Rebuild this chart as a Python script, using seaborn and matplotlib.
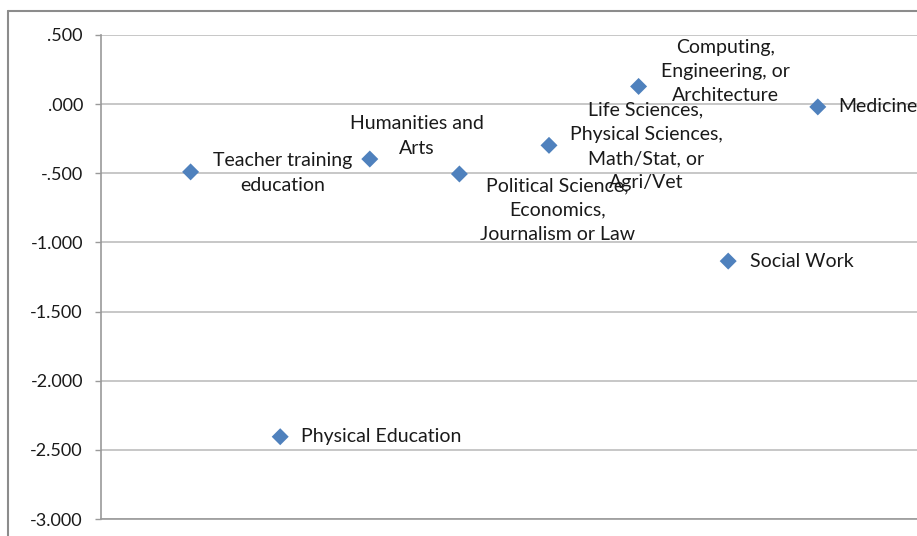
import pandas as pd
import seaborn as sns
import matplotlib.pyplot as plt
from matplotlib.lines import Line2D
from matplotlib.ticker import FuncFormatter

# values, one point per field of study
fields = [
    "Teacher training\neducation",
    "Physical Education",
    "Humanities and\nArts",
    "Political Science,\nEconomics,\nJournalism or Law",
    "Life Sciences,\nPhysical Sciences,\nMath/Stat, or\nAgri/Vet",
    "Computing,\nEngineering, or\nArchitecture",
    "Social Work",
    "Medicine",
]
positions = [1, 2, 3, 4, 5, 6, 7, 8]
scores = [-0.49, -2.405, -0.397, -0.505, -0.298, 0.128, -1.135, -0.02]

# label offsets (pixels) and alignment, as placed by hand in the original
label_dx = [92, 21, 47, 98, 97, 87, 22, 20]
label_dy = [-1, 0, 23, -36, -1, 15, 0, 0]
label_ha = ["center", "left", "center", "center", "center", "center", "left", "left"]

df = pd.DataFrame({"field": fields, "pos": positions, "score": scores})

sns.set_style("white")
plt.rcParams["font.family"] = ["Lato", "DejaVu Sans"]

fig = plt.figure(figsize=(9.17, 5.36), dpi=100)
ax = fig.add_axes([101 / 917, 1 - 519 / 536, 1 - 101 / 917, (519 - 35) / 536])

sns.scatterplot(data=df, x="pos", y="score", marker="D", s=75,
                color="#4F81BD", edgecolor="none", ax=ax, zorder=3, clip_on=False)

for i in range(len(df)):
    ax.annotate(df["field"][i], (df["pos"][i], df["score"][i]),
                xytext=(label_dx[i], label_dy[i]), textcoords="offset pixels",
                ha=label_ha[i], va="center", multialignment="center",
                fontsize=14, linespacing=1.52, color="#1a1a1a",
                annotation_clip=False)

ax.set_xlim(0, 816 / 89.6)
ax.set_ylim(-3.0, 0.5)
ax.set_yticks([0.5, 0.0, -0.5, -1.0, -1.5, -2.0, -2.5, -3.0])
ax.yaxis.set_major_formatter(FuncFormatter(
    lambda v, p: f"{v:.3f}".replace("0.", ".", 1) if abs(v) < 1 else f"{v:.3f}"))
ax.set_xticks([])
ax.set_xlabel("")
ax.set_ylabel("")
ax.grid(axis="y", color="#BEBEBE", linewidth=1.2)
ax.tick_params(axis="y", length=4, width=1, color="#9A9A9A", pad=9,
               labelsize=13, labelcolor="#1a1a1a", left=True)
for side in ["top", "right"]:
    ax.spines[side].set_visible(False)
ax.spines["left"].set_color("#9A9A9A")
ax.spines["bottom"].set_color("#9A9A9A")
ax.spines["left"].set_linewidth(1.2)
ax.spines["bottom"].set_linewidth(1.2)

# outer chart-area border (left and top edges are what show in the crop)
fig.add_artist(Line2D([8 / 917, 8 / 917], [0, 1 - 10.5 / 536],
                      color="#8C8C8C", linewidth=1.5, transform=fig.transFigure))
fig.add_artist(Line2D([8 / 917, 1], [1 - 10.5 / 536, 1 - 10.5 / 536],
                      color="#8C8C8C", linewidth=1.5, transform=fig.transFigure))

fig.savefig("out.png", dpi=100)
